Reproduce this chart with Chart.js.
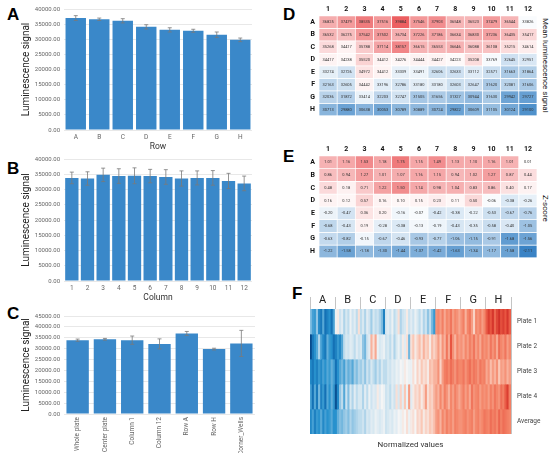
<!DOCTYPE html>
<html>
<head>
<meta charset="utf-8">
<script src="https://cdn.jsdelivr.net/npm/chart.js@4.4.1/dist/chart.umd.min.js"></script>
<style>
  body { margin: 0; background: #fff; width: 550px; height: 454px; position: relative; overflow: hidden; font-family: Roboto, "Liberation Sans", Arial, sans-serif; }
  .box { position: absolute; }
  .tag { position: absolute; font-family: "Liberation Sans", Arial, sans-serif; font-weight: bold; font-size: 17px; color: #000; line-height: 1; }
  .side { position: absolute; writing-mode: vertical-rl; font-size: 8px; color: #222; white-space: nowrap; }
</style>
</head>
<body>
<div class="tag" style="left:7px;top:6px">A</div>
<div class="tag" style="left:7px;top:160px">B</div>
<div class="tag" style="left:7px;top:305px">C</div>
<div class="tag" style="left:283px;top:6px">D</div>
<div class="tag" style="left:283px;top:148px">E</div>
<div class="tag" style="left:292px;top:285px">F</div>

<div class="box" style="left:20px;top:0px;width:240px;height:152px"><canvas id="chartA"></canvas></div>
<div class="box" style="left:20px;top:150px;width:240px;height:153px"><canvas id="chartB"></canvas></div>
<div class="box" style="left:20px;top:307px;width:243px;height:146px"><canvas id="chartC"></canvas></div>
<div class="box" style="left:303px;top:2px;width:234px;height:122px"><canvas id="chartD"></canvas></div>
<div class="box" style="left:303px;top:142px;width:234px;height:124px"><canvas id="chartE"></canvas></div>
<div class="box" style="left:310px;top:292px;width:236px;height:158px"><canvas id="chartF"></canvas></div>

<div class="side" style="left:541px;top:18px">Mean luminescence signal</div>
<div class="side" style="left:541px;top:195px">Z-score</div>

<script>
// --- data ---
const rowLabels = ['A', 'B', 'C', 'D', 'E', 'F', 'G', 'H'];
const rowMeans = [37000, 36600, 36100, 34100, 33100, 32800, 31500, 29800];
const rowErr = [800, 400, 700, 700, 700, 500, 900, 600];

const colLabels = ['1', '2', '3', '4', '5', '6', '7', '8', '9', '10', '11', '12'];
const colMeans = [33800, 33600, 34800, 34400, 34500, 34400, 34100, 33600, 33800, 33800, 32800, 32000];
const colErr = [1900, 2200, 2200, 2400, 2600, 2200, 2400, 2500, 2300, 2400, 2500, 2400];

const groupLabels = ['Whole plate', 'Center plate', 'Column 1', 'Column 12', 'Row A', 'Row H', 'Corner_Wells'];
const groupMeans = [33900, 34300, 33900, 32200, 37000, 29800, 32400];
const groupErr = [500, 400, 1900, 2300, 900, 400, 6000];

const meanSignal = [
  [36825, 37479, 38535, 37516, 39884, 37546, 37903, 36548, 36523, 37479, 36544, 33826],
  [36532, 36275, 37542, 37502, 36734, 37226, 37186, 36634, 36830, 37236, 36435, 35417],
  [35268, 34417, 35788, 37114, 38157, 36615, 36553, 36646, 36088, 36108, 35215, 34614],
  [34417, 34238, 35520, 34412, 34276, 34444, 34427, 34223, 35208, 33769, 32645, 32951],
  [33274, 32726, 34972, 34412, 33339, 33491, 32606, 32633, 33112, 32571, 31663, 31864],
  [32163, 32605, 34442, 33196, 32786, 33180, 33180, 32603, 32647, 31620, 32081, 31606],
  [32036, 31872, 33414, 32203, 32747, 31505, 31656, 31327, 30944, 31630, 29942, 29727],
  [30713, 29880, 30638, 30053, 30789, 30889, 30724, 29822, 30609, 31105, 30124, 29100]
];

const zScore = [
  [1.01, 1.16, 1.53, 1.18, 1.75, 1.15, 1.49, 1.13, 1.10, 1.16, 1.01, 0.01],
  [0.86, 0.94, 1.27, 1.01, 1.07, 1.16, 1.15, 0.94, 1.02, 1.27, 0.87, 0.44],
  [0.48, 0.18, 0.71, 1.22, 1.50, 1.14, 0.98, 1.04, 0.83, 0.86, 0.40, 0.17],
  [0.16, 0.12, 0.57, 0.16, 0.10, 0.15, 0.23, 0.11, 0.50, -0.06, -0.38, -0.26],
  [-0.20, -0.47, 0.36, 0.20, -0.16, -0.07, -0.42, -0.38, -0.22, -0.53, -0.67, -0.76],
  [-0.68, -0.43, 0.19, -0.28, -0.38, -0.13, -0.19, -0.43, -0.35, -0.58, -0.40, -1.05],
  [-0.63, -0.82, -0.15, -0.67, -0.46, -0.93, -0.77, -1.06, -1.15, -0.91, -1.68, -1.56],
  [-1.22, -1.58, -1.18, -1.30, -1.44, -1.37, -1.42, -1.63, -1.34, -1.17, -1.58, -2.11]
];

const plateNames = ['Plate 1', 'Plate 2', 'Plate 3', 'Plate 4', 'Average'];
const plate1 = [
  0.9, 1.3, 1.4, 0.8, 1.6, 1.8, 1.2, 1.9, 1.7, 1.5, 1.9, 1.3,
  0.1, -0.1, 0.4, 0.2, 0.6, 0.3, 0.5, 0.1, 0.4, 0.2, 0.5, -0.2,
  0.5, 0.3, 0.6, 0.2, 0.4, 0.7, 0.3, 0.5, 0.4, 0.6, 0.9, 1.7,
  0.3, 0.2, 0.4, 0.1, 0.5, 0.3, -0.2, 0.6, 0.4, 0.3, -0.1, 0.4,
  0.2, 0.4, 0.1, 0.3, 0.5, 0.2, 0.6, 0.4, 0.8, 0.5, 1.0, 1.4,
  -0.9, -1.0, -0.8, -1.1, -0.7, -1.0, -0.9, -1.2, -0.8, -1.0, -0.9, -0.7,
  -0.9, -1.1, -0.6, -1.0, -1.2, -0.8, -0.3, -1.0, -0.9, -1.1, -0.8, -1.0,
  -1.5, -1.9, -1.6, -2.0, -1.4, -1.8, -2.1, -1.7, -1.9, -1.6, -2.0, -1.5
];
const plate2 = [
  2.5, 1.8, 1.5, 1.2, 0.6, 1.3, 1.6, 1.8, 1.1, 1.4, 1.5, 1.9,
  1.7, 1.4, 1.6, 1.2, 0.5, 0.3, 0.4, 0.2, 0.3, 0.5, 0.2, 0.4,
  0.3, 0.8, 1.0, 0.4, 0.2, -0.6, -0.2, -0.7, 0.1, 0.3, 0.2, 0.1,
  0.4, 0.3, 0.5, 0.2, 0.6, 0.3, 0.1, 0.4, -0.1, 0.2, -0.2, 1.0,
  -0.2, -0.4, -0.1, -0.3, -0.5, -0.2, -0.6, -0.3, -0.4, -0.1, -0.5, -0.3,
  -0.5, -0.8, -0.4, -0.9, -0.6, -1.2, -0.7, -1.6, -0.9, -0.6, -1.0, -0.8,
  -0.9, -0.7, -1.0, -0.8, -1.1, -0.9, -1.2, -0.8, -1.0, -0.7, -1.1, -0.9,
  -1.0, -0.8, -1.2, -0.9, -1.1, -0.7, -1.3, -1.0, -0.9, -1.2, -0.8, -1.0
];
const plate3 = [
  1.6, 1.8, 1.5, 1.7, 1.4, 1.6, 1.3, 1.5, 1.2, 1.4, 1.1, 1.3,
  1.9, 1.5, 1.2, 1.0, 1.3, 0.8, 1.1, 0.9, 1.2, 0.7, 0.9, 0.6,
  0.7, 0.5, 0.8, 0.4, 0.6, 0.3, 0.5, 0.7, 0.4, 0.6, 0.3, 0.5,
  0.5, 0.3, 0.4, 0.2, 0.3, 0.1, 0.2, 0.0, 0.1, -0.1, 0.0, 0.1,
  0.1, -0.2, 0.0, -0.3, -0.1, -0.4, -0.2, -0.3, -0.1, -0.5, -0.4, -0.6,
  -0.6, -0.9, -0.3, -0.8, -1.1, -1.2, -1.0, -1.3, -1.1, -0.9, -1.2, -1.0,
  -1.0, -1.2, -0.9, -1.1, -1.3, -1.0, -1.2, -1.1, -0.9, -1.2, -1.0, -1.1,
  -0.7, -0.9, -0.5, -0.8, -0.6, -0.9, -0.4, -0.8, -0.7, -0.9, -0.6, -0.8
];
const plate4 = [
  1.3, 1.9, 1.2, 1.8, 1.0, 1.7, 1.4, 1.9, 1.2, 1.5, 1.1, 1.4,
  2.4, 1.6, 0.8, 0.5, 1.2, 0.4, 0.9, 0.3, 0.6, 0.2, 0.5, 0.3,
  0.3, 0.6, 0.2, 0.5, 0.1, 0.4, 0.2, 0.3, -0.1, 0.2, 0.0, 0.1,
  0.4, 0.3, 0.5, 0.2, 0.4, -0.2, 0.3, -0.3, 0.2, -0.4, 0.1, -0.8,
  0.2, -0.1, -0.3, -0.2, -0.4, -0.1, -0.3, -0.8, -0.2, -0.4, -0.3, -0.6,
  -0.8, -0.6, -1.0, -0.7, -1.1, -0.9, -0.6, -1.0, -0.8, -1.1, -0.9, -0.7,
  -0.9, -1.1, -0.8, -1.0, -0.7, -1.2, -0.9, -1.0, -1.1, -0.8, -1.0, -0.9,
  -1.0, -0.8, -1.1, -0.9, -1.2, -1.0, -0.9, -1.3, -1.1, -1.5, -1.9, -1.1
];
const plateAverage = [
  1.6, 1.3, 1.7, 1.4, 1.5, 1.2, 1.6, 1.3, 1.5, 1.4, 1.2, 1.5,
  1.5, 1.1, 0.9, 1.0, 0.8, 0.7, 0.9, 0.6, 0.8, 0.7, 0.6, 0.5,
  0.5, 0.4, 0.6, 0.3, 0.4, 0.2, 0.3, 0.1, 0.2, 0.3, 0.2, 0.1,
  0.4, 0.3, 0.2, 0.3, 0.1, 0.2, 0.0, 0.1, -0.1, 0.0, -0.2, 0.1,
  -0.1, -0.2, 0.0, -0.3, -0.2, -0.4, -0.1, -0.3, -0.2, -0.4, -0.3, -0.5,
  -0.8, -0.9, -0.6, -1.0, -0.8, -1.1, -0.9, -1.0, -0.8, -1.1, -1.0, -0.9,
  -0.9, -1.0, -1.1, -0.9, -1.0, -1.1, -0.8, -1.0, -1.1, -0.9, -1.0, -1.2,
  -1.1, -1.0, -1.3, -1.1, -1.2, -1.0, -1.4, -1.1, -1.3, -1.2, -1.1, -1.0
];
const wellLabels = rowLabels.flatMap(r => colLabels.map(c => r + c));

Chart.defaults.font.family = 'Roboto, "Liberation Sans", Arial, sans-serif';
Chart.defaults.animation = false;

// --- helpers ---
function mix(stops, v) {
  if (v <= stops[0][0]) return 'rgb(' + stops[0][1].join(',') + ')';
  for (let i = 1; i < stops.length; i++) {
    if (v <= stops[i][0]) {
      const t = (v - stops[i - 1][0]) / (stops[i][0] - stops[i - 1][0]);
      const a = stops[i - 1][1], b = stops[i][1];
      return 'rgb(' + a.map((x, k) => Math.round(x + (b[k] - x) * t)).join(',') + ')';
    }
  }
  return 'rgb(' + stops[stops.length - 1][1].join(',') + ')';
}
const heatStops = [[-1, [58, 131, 197]], [0, [255, 255, 255]], [1, [236, 95, 97]]];
const stripeStops = [
  [-2.2, [205, 40, 35]], [-1.6, [232, 85, 65]], [-1.0, [244, 135, 107]], [-0.4, [250, 200, 182]],
  [0, [245, 245, 245]], [0.4, [205, 227, 240]], [0.9, [130, 190, 225]], [1.5, [40, 145, 205]],
  [2.0, [15, 105, 175]], [2.5, [8, 75, 140]]
];

const errorBars = {
  id: 'errorBars',
  afterDatasetsDraw(chart, args, opts) {
    if (!opts.errs) return;
    const ctx = chart.ctx, y = chart.scales.y;
    const vals = chart.data.datasets[0].data;
    ctx.save();
    ctx.strokeStyle = '#7a7a7a';
    ctx.lineWidth = 0.8;
    chart.getDatasetMeta(0).data.forEach((bar, i) => {
      const top = y.getPixelForValue(vals[i] + opts.errs[i]);
      const bot = y.getPixelForValue(vals[i] - opts.errs[i]);
      ctx.beginPath();
      ctx.moveTo(bar.x, top); ctx.lineTo(bar.x, bot);
      ctx.moveTo(bar.x - 2, top); ctx.lineTo(bar.x + 2, top);
      ctx.moveTo(bar.x - 2, bot); ctx.lineTo(bar.x + 2, bot);
      ctx.stroke();
    });
    ctx.restore();
  }
};

const cellText = {
  id: 'cellText',
  afterDatasetsDraw(chart, args, opts) {
    if (!opts.values) return;
    const ctx = chart.ctx;
    ctx.save();
    ctx.font = '4px Roboto, sans-serif';
    ctx.fillStyle = '#333';
    ctx.textAlign = 'center';
    ctx.textBaseline = 'middle';
    opts.values.forEach((row, r) => {
      const meta = chart.getDatasetMeta(r);
      row.forEach((v, c) => {
        const el = meta.data[c];
        ctx.fillText(opts.fmt(v), el.x, (el.y + el.base) / 2);
      });
    });
    ctx.restore();
  }
};

function barPanel(id, labels, means, errs, yMax, xTitle, rotate, xHeight, catPct) {
  new Chart(document.getElementById(id), {
    type: 'bar',
    data: {
      labels: labels,
      datasets: [{ data: means, backgroundColor: '#3a88c9', borderWidth: 0, categoryPercentage: catPct, barPercentage: 1 }]
    },
    options: {
      responsive: true,
      maintainAspectRatio: false,
      layout: { padding: { top: 9, right: 8, left: 0, bottom: 0 } },
      plugins: { legend: { display: false }, tooltip: { enabled: false }, errorBars: { errs: errs } },
      scales: {
        x: {
          grid: { display: false, drawTicks: false },
          border: { display: false },
          ticks: { color: '#666', font: { size: 6.5 }, autoSkip: false, maxRotation: rotate ? 90 : 0, minRotation: rotate ? 90 : 0, padding: 3 },
          title: { display: !!xTitle, text: xTitle, color: '#333', font: { size: 8.5 }, padding: { top: 1, bottom: 0 } },
          afterFit: s => { s.height = xHeight; }
        },
        y: {
          min: 0,
          max: yMax,
          ticks: { stepSize: 5000, color: '#666', font: { size: 6 }, padding: 4, callback: v => v.toFixed(2) },
          grid: { color: '#e8e8e8', drawTicks: false },
          border: { display: false },
          title: { display: true, text: 'Luminescence signal', color: '#222', font: { size: 10 }, padding: 0 },
          afterFit: s => { s.width = 44; }
        }
      }
    },
    plugins: [errorBars]
  });
}

function heatPanel(id, values, fmt, scaleFn) {
  new Chart(document.getElementById(id), {
    type: 'bar',
    data: {
      labels: colLabels,
      datasets: values.map((row, r) => ({
        data: row.map(() => [r, r + 1]),
        backgroundColor: row.map(v => mix(heatStops, scaleFn(v))),
        borderColor: '#fff',
        borderWidth: 0.7,
        borderSkipped: false,
        grouped: false,
        categoryPercentage: 1,
        barPercentage: 1
      }))
    },
    options: {
      responsive: true,
      maintainAspectRatio: false,
      layout: { padding: 0 },
      plugins: { legend: { display: false }, tooltip: { enabled: false }, cellText: { values: values, fmt: fmt } },
      scales: {
        x: {
          position: 'top',
          grid: { display: false, drawTicks: false },
          border: { display: false },
          ticks: { color: '#111', font: { size: 7, weight: 'bold' }, padding: 3 },
          afterFit: s => { s.height = 14; }
        },
        y: {
          min: 0,
          max: 8,
          reverse: true,
          grid: { display: false, drawTicks: false },
          border: { display: false },
          afterBuildTicks: s => { s.ticks = rowLabels.map((_, i) => ({ value: i + 0.5 })); },
          ticks: { color: '#111', font: { size: 7, weight: 'bold' }, padding: 4, callback: v => rowLabels[Math.floor(v)] },
          afterFit: s => { s.width = 16; }
        }
      }
    },
    plugins: [cellText]
  });
}

// --- panels A, B, C ---
barPanel('chartA', rowLabels, rowMeans, rowErr, 40000, 'Row', false, 22, 0.87);
barPanel('chartB', colLabels, colMeans, colErr, 40000, 'Column', false, 22, 0.85);
barPanel('chartC', groupLabels, groupMeans, groupErr, 45000, '', true, 39, 0.82);

// --- panels D, E ---
heatPanel('chartD', meanSignal, v => String(v), v => (v - 34000) / 5500);
heatPanel('chartE', zScore, v => v.toFixed(2), v => v / 2.1);

// --- panel F ---
const plates = [plate1, plate2, plate3, plate4, plateAverage];
new Chart(document.getElementById('chartF'), {
  type: 'bar',
  data: {
    labels: wellLabels,
    datasets: plates.map((p, r) => ({
      data: p.map(() => [r, r + 1]),
      backgroundColor: p.map(v => mix(stripeStops, v)),
      borderWidth: 0,
      grouped: false,
      categoryPercentage: 1,
      barPercentage: 1
    }))
  },
  options: {
    responsive: true,
    maintainAspectRatio: false,
    layout: { padding: 0 },
    plugins: { legend: { display: false }, tooltip: { enabled: false } },
    scales: {
      x: {
        grid: { display: false, drawTicks: false },
        border: { display: false },
        ticks: { display: false },
        title: { display: true, text: 'Normalized values', color: '#333', font: { size: 8 }, padding: { top: 4, bottom: 0 } },
        afterFit: s => { s.height = 16; }
      },
      x2: {
        type: 'category',
        labels: rowLabels,
        position: 'top',
        offset: true,
        z: 1,
        grid: { offset: true, color: '#c4c4c4', lineWidth: 1, tickLength: 12 },
        border: { display: false },
        ticks: { color: '#222', font: { size: 11 }, padding: -10 },
        afterFit: s => { s.height = 17; }
      },
      y: {
        position: 'right',
        min: 0,
        max: 5,
        reverse: true,
        grid: { display: false, drawTicks: false },
        border: { display: false },
        afterBuildTicks: s => { s.ticks = plateNames.map((_, i) => ({ value: i + 0.5 })); },
        ticks: { color: '#444', font: { size: 6.5 }, padding: 6, callback: v => plateNames[Math.floor(v)] },
        afterFit: s => { s.width = 35; }
      }
    }
  }
});
</script>
</body>
</html>
